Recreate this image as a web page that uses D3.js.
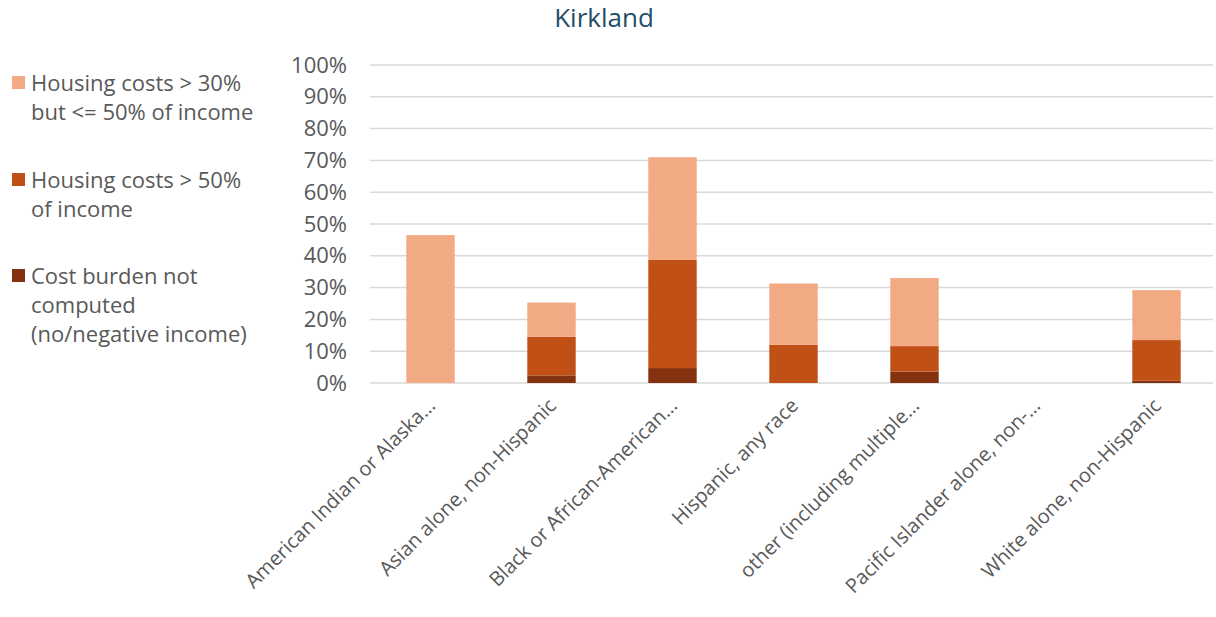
<!DOCTYPE html>
<html>
<head>
<meta charset="utf-8">
<script src="https://cdn.jsdelivr.net/npm/d3@7"></script>
<style>
  body { margin: 0; background: #fff; }
  text { font-family: "Open Sans", "Noto Sans", sans-serif; }
</style>
</head>
<body>
<svg id="chart" width="1216" height="617"></svg>
<script>
var categories = ["American Indian or Alaska…", "Asian alone, non-Hispanic",
    "Black or African-American…", "Hispanic, any race",
    "other (including multiple…", "Pacific Islander alone, non-…",
    "White alone, non-Hispanic"]
var seriesNames = ["Cost burden not computed (no/negative income)",
    "Housing costs > 50% of income",
    "Housing costs > 30% but <= 50% of income"]
var notComputed = [0, 0.024, 0.047, 0, 0.036, 0, 0.007]
var over50 = [0, 0.121, 0.340, 0.120, 0.080, 0, 0.128]
var over30 = [0.465, 0.108, 0.323, 0.193, 0.214, 0, 0.157]
var yTicks = [0, 0.1, 0.2, 0.3, 0.4, 0.5, 0.6, 0.7, 0.8, 0.9, 1]
var colors = ["#843110", "#C05015", "#F1AA84"]

function drawChart() {
    "use strict";
    var svg = d3.select("#chart")
    var mLeft = 370, mRight = 1217, gridRight = 1213, mTop = 65, mBottom = 383
    var textColor = "#595959"
    var fontSize = "22px"

    var rows = categories.map(function(c, i) {
        return { cat: c, a: notComputed[i], b: over50[i], c: over30[i] }
    })
    var stack = d3.stack().keys(["a", "b", "c"])(rows)

    var x = d3.scaleBand().domain(categories).range([mLeft, mRight])
        .paddingInner(0.6).paddingOuter(0.3)
    var y = d3.scaleLinear().domain([0, 1]).range([mBottom, mTop])

    // title
    svg.append("text")
        .attr("x", 604).attr("y", 27)
        .attr("text-anchor", "middle")
        .style("font-size", "26px")
        .style("fill", "#1F4E69")
        .text("Kirkland")

    // grid
    svg.append("g").selectAll("line").data(yTicks).join("line")
        .attr("x1", mLeft).attr("x2", gridRight)
        .attr("y1", function(d) { return y(d) }).attr("y2", function(d) { return y(d) })
        .attr("stroke", "#d9d9d9").attr("stroke-width", 1.5)

    var yAxis = svg.append("g")
        .attr("transform", "translate(" + (mLeft - 23) + ",0)")
        .call(d3.axisLeft(y).tickValues(yTicks).tickFormat(d3.format(".0%")).tickSize(0).tickPadding(0))
    yAxis.select(".domain").remove()
    yAxis.selectAll("text").style("font-size", fontSize).style("fill", textColor)
        .style("font-family", "'Open Sans', sans-serif")

    // bars
    svg.append("g").selectAll("g").data(stack).join("g")
        .attr("fill", function(d, i) { return colors[i] })
        .selectAll("rect").data(function(d) { return d }).join("rect")
        .attr("x", function(d) { return x(d.data.cat) })
        .attr("width", x.bandwidth())
        .attr("y", function(d) { return y(d[1]) })
        .attr("height", function(d) { return y(d[0]) - y(d[1]) })

    // x labels
    var xAxis = svg.append("g")
        .attr("transform", "translate(0," + (mBottom + 14) + ")")
        .call(d3.axisBottom(x).tickSize(0).tickPadding(0))
    xAxis.select(".domain").remove()
    xAxis.selectAll("text")
        .style("font-size", "20px").style("fill", textColor)
        .style("font-family", "'Open Sans', sans-serif")
        .attr("text-anchor", "end")
        .attr("dy", "0.7em")
        .attr("transform", "translate(-4,0) rotate(-45)")

    // legend
    var legend = [
        { lines: ["Housing costs > 30%", "but <= 50% of income"], color: colors[2], y: 83 },
        { lines: ["Housing costs > 50%", "of income"], color: colors[1], y: 180 },
        { lines: ["Cost burden not", "computed", "(no/negative income)"], color: colors[0], y: 276 }
    ]
    var lg = svg.append("g").selectAll("g").data(legend).join("g")
    lg.append("rect")
        .attr("x", 12).attr("y", function(d) { return d.y - 7 })
        .attr("width", 13).attr("height", 13)
        .attr("fill", function(d) { return d.color })
    lg.each(function(d) {
        var t = d3.select(this).append("text")
            .attr("x", 31).attr("y", d.y)
            .style("font-size", fontSize).style("fill", textColor)
        t.selectAll("tspan").data(d.lines).join("tspan")
            .attr("x", 31).attr("dy", function(l, i) { return i === 0 ? "0.35em" : "1.32em" })
            .text(function(l) { return l })
    })
}
drawChart()
</script>
</body>
</html>
